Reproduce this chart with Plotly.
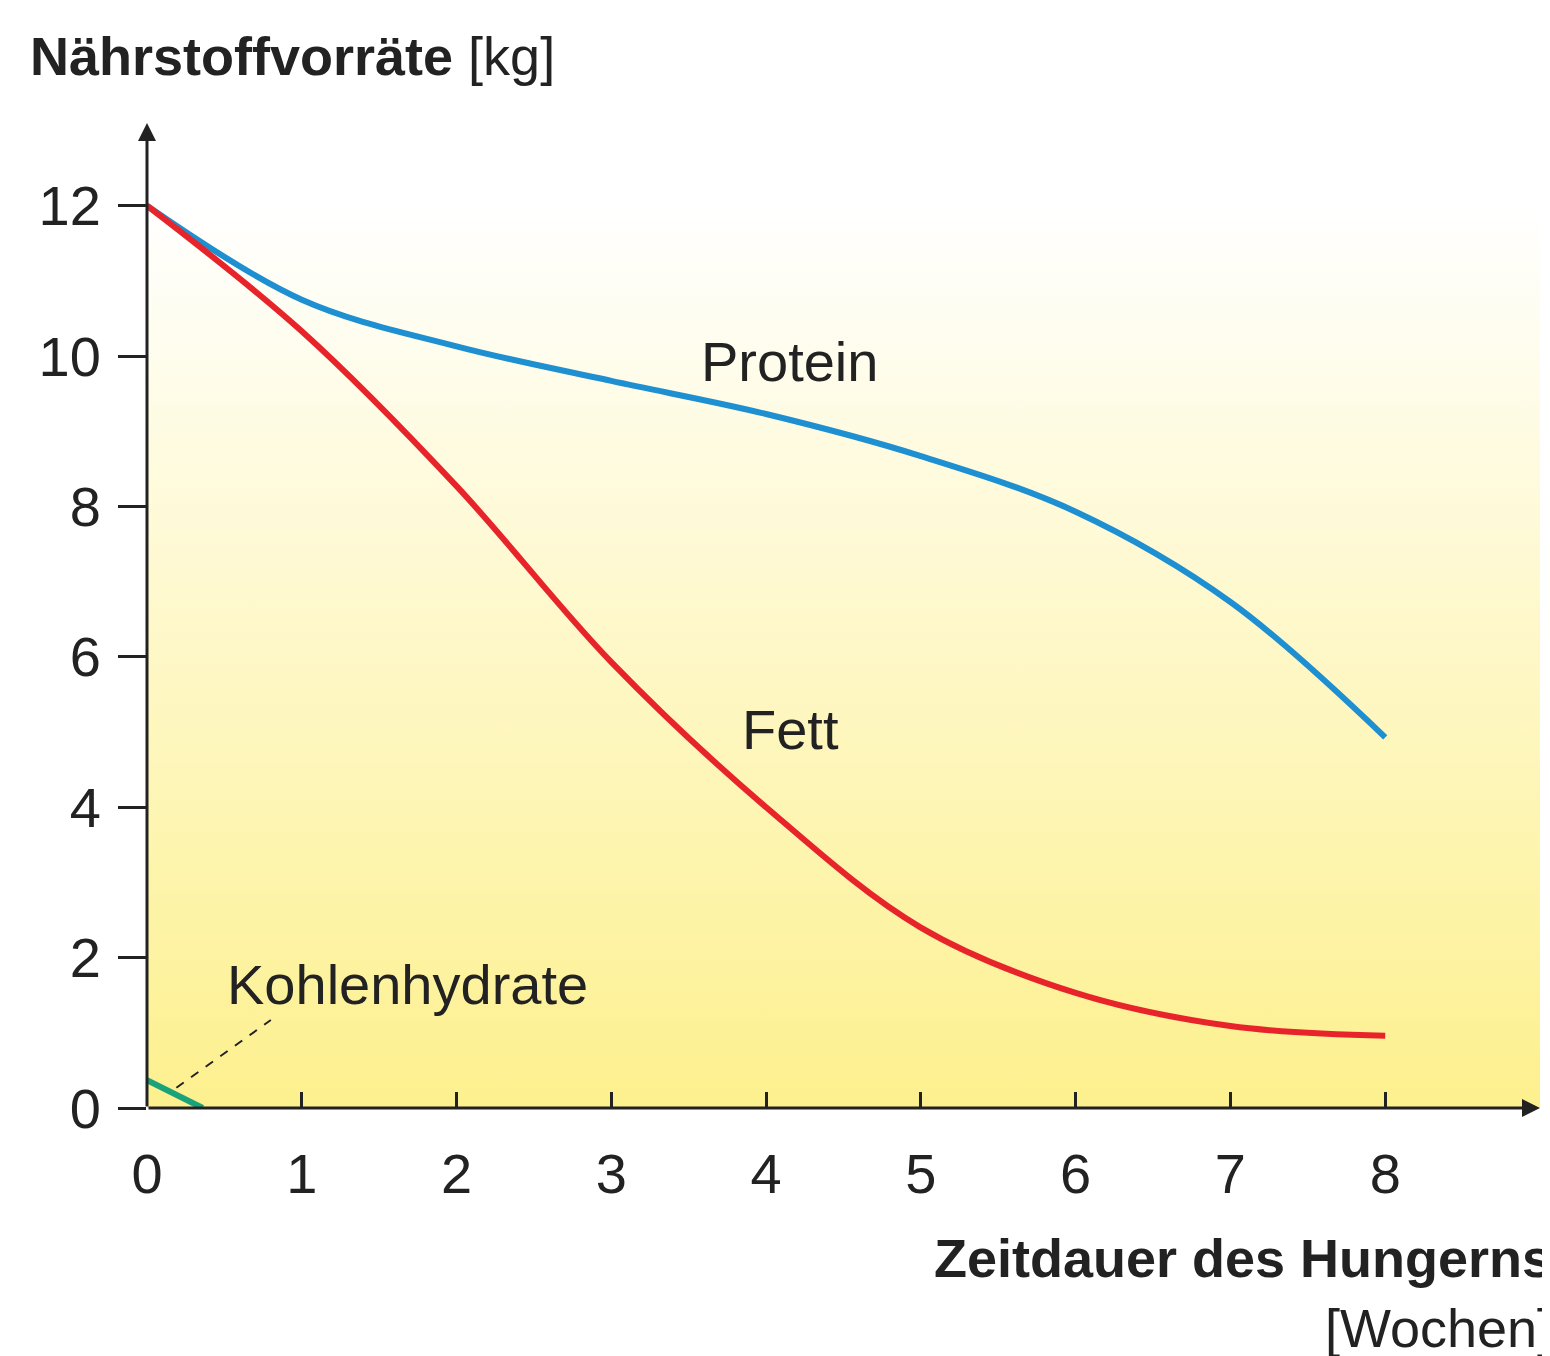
import plotly.graph_objects as go

weeks_protein = [0, 1, 2, 3, 4, 5, 6, 7, 8]
protein = [12, 10.75, 10.13, 9.67, 9.23, 8.67, 7.93, 6.73, 4.93]

weeks_fett = [0, 1, 2, 3, 4, 5, 6, 7, 8]
fett = [12, 10.33, 8.27, 5.93, 4.0, 2.4, 1.53, 1.09, 0.96]

weeks_kh = [0, 0.36]
kohlenhydrate = [0.37, 0]

font = "Liberation Sans, Arial, sans-serif"

fig = go.Figure()

# background gradient (white at top -> yellow at bottom)
fig.add_trace(go.Scatter(
    x=[0, 9, 9, 0, 0], y=[0, 0, 12, 12, 0], mode="lines", line=dict(width=0),
    fill="toself",
    fillgradient=dict(type="vertical", colorscale=[[0, "#fdf08e"], [1, "#ffffff"]]),
    hoverinfo="skip", showlegend=False,
))

fig.add_trace(go.Scatter(x=weeks_protein, y=protein, mode="lines",
                         line=dict(color="#1e8fd0", width=6, shape="spline", smoothing=1.0),
                         showlegend=False))
fig.add_trace(go.Scatter(x=weeks_fett, y=fett, mode="lines",
                         line=dict(color="#e8242b", width=6, shape="spline", smoothing=1.0),
                         showlegend=False))
fig.add_trace(go.Scatter(x=weeks_kh, y=kohlenhydrate, mode="lines",
                         line=dict(color="#1aa37a", width=6), showlegend=False))
# leader line
fig.add_trace(go.Scatter(x=[0.19, 0.8], y=[0.27, 1.17], mode="lines",
                         line=dict(color="#222", width=2, dash="dash"), showlegend=False))

fig.update_layout(
    width=1550, height=1356,
    margin=dict(l=139, r=18, t=115, b=256),
    plot_bgcolor="white", paper_bgcolor="white",
    font=dict(family=font, size=56, color="#222"),
    xaxis=dict(range=[0, 9], tickvals=list(range(9)), showgrid=False, zeroline=False,
               showline=False, ticks="inside", ticklen=16, tickwidth=3, tickcolor="#222",
               ticklabelstandoff=28),
    yaxis=dict(range=[0, 13.1], tickvals=list(range(0, 13, 2)), showgrid=False, zeroline=False,
               showline=False, ticks="outside", ticklen=28, tickwidth=3, tickcolor="#222",
               ticklabelstandoff=6),
)

# axes with arrows
fig.add_annotation(x=9, y=0, ax=0, ay=0, xref="x", yref="y", axref="x", ayref="y",
                   showarrow=True, arrowhead=2, arrowwidth=3, arrowsize=1.2, arrowcolor="#222", text="")
fig.add_annotation(x=0, y=13.1, ax=0, ay=0, xref="x", yref="y", axref="x", ayref="y",
                   showarrow=True, arrowhead=2, arrowwidth=3, arrowsize=1.2, arrowcolor="#222", text="")

labels = [("Protein", 4.15, 9.93), ("Fett", 4.16, 5.04), ("Kohlenhydrate", 1.68, 1.64)]
for txt, x, y in labels:
    fig.add_annotation(x=x, y=y, text=txt, showarrow=False, font=dict(size=56, color="#222"))

fig.add_annotation(x=(20 - 139) / 1393, y=(1100 - 48) / 985, xref="paper", yref="paper",
                   xanchor="left", yanchor="middle", showarrow=False,
                   text="<b>Nährstoffvorräte</b> [kg]", font=dict(size=54, color="#222"))
fig.add_annotation(x=1, y=0, xref="paper", yref="paper", xanchor="right", yanchor="top",
                   yshift=-118, xshift=14, showarrow=False, align="right",
                   text="<b>Zeitdauer des Hungerns</b><br>[Wochen]",
                   font=dict(size=54, color="#222"))

fig.write_html("out.html")
